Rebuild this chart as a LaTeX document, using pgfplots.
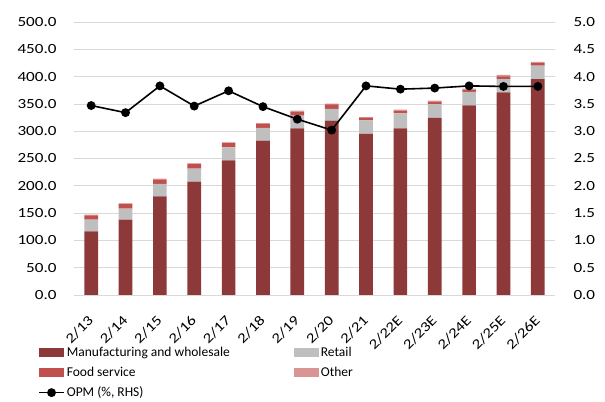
\documentclass[border=0pt]{standalone}
\usepackage{fontspec}
\setmainfont{Carlito}
\newfontfamily\tickfont[FakeStretch=1.22]{Carlito}
\usepackage{pgfplots}
\usepackage{pgfplotstable}
\pgfplotsset{compat=1.18}
\definecolor{mfg}{RGB}{142,57,57}
\definecolor{retail}{RGB}{191,191,191}
\definecolor{food}{RGB}{192,80,77}
\definecolor{other}{RGB}{217,149,148}
\definecolor{gridc}{RGB}{217,217,217}
\pgfplotsset{
  swatch/.style={legend image code/.code={\path[##1,draw=none] (0bp,-4.5bp) rectangle (25bp,4.5bp);}},
  lineswatch/.style={legend image code/.code={\draw[mark repeat=2,mark phase=2,##1] plot coordinates {(0bp,0bp) (12.5bp,0bp) (25bp,0bp)};}},
}
\pgfplotstableread{
x mfg retail food other opm
0 116.6 21.4 7.9 1.2 3.47
1 138.0 20.0 8.7 1.3 3.34
2 180.7 22.6 7.7 2.0 3.83
3 207.6 23.8 8.6 1.2 3.46
4 246.6 23.8 8.0 1.2 3.74
5 282.7 23.2 7.9 1.2 3.45
6 305.3 23.1 7.4 1.8 3.22
7 319.3 21.7 8.2 1.2 3.02
8 294.9 25.0 4.3 1.8 3.83
9 305.3 27.4 4.9 1.8 3.77
10 324.2 25.6 4.3 1.9 3.79
11 347.4 24.4 4.3 1.9 3.83
12 371.2 24.4 4.9 2.5 3.82
13 395.6 24.4 4.9 2.1 3.82
}\data
\begin{document}
\begin{tikzpicture}
\path[use as bounding box] (0,0) rectangle (605bp,402bp);
\begin{axis}[
  at={(74bp,107bp)}, anchor=south west,
  scale only axis, width=481bp, height=273bp,
  ybar stacked, bar width=13.7bp,
  xmin=-0.5, xmax=13.5, ymin=0, ymax=500,
  xtick={0,...,13},
  xticklabels={2/13,2/14,2/15,2/16,2/17,2/18,2/19,2/20,2/21,2/22E,2/23E,2/24E,2/25E,2/26E},
  ytick={0,50,...,500},
  ymajorgrids, grid style={draw=gridc, line width=0.8pt},
  axis line style={draw=none}, major tick length=0pt,
  yticklabel={\pgfmathprintnumber[fixed,fixed zerofill,precision=1,assume math mode=true]{\tick}},
  ticklabel style={font=\tickfont\fontsize{14bp}{16bp}\selectfont},
  yticklabel style={xshift=-14bp},
  xticklabel style={rotate=45, anchor=east, yshift=-16bp, xshift=-13bp},
]
\addplot[fill=mfg, draw=none] table[x=x,y=mfg]{\data};
\addplot[fill=retail, draw=none] table[x=x,y=retail]{\data};
\addplot[fill=food, draw=none] table[x=x,y=food]{\data};
\addplot[fill=other, draw=none] table[x=x,y=other]{\data};
\end{axis}
\begin{axis}[
  at={(74bp,107bp)}, anchor=south west,
  scale only axis, width=481bp, height=273bp,
  xmin=-0.5, xmax=13.5, ymin=0, ymax=5,
  axis x line=none, axis y line*=right, axis line style={draw=none},
  major tick length=0pt,
  ytick={0,0.5,...,5},
  yticklabel={\pgfmathprintnumber[fixed,fixed zerofill,precision=1,assume math mode=true]{\tick}},
  ticklabel style={font=\tickfont\fontsize{14bp}{16bp}\selectfont},
  yticklabel style={xshift=15bp},
  legend columns=2,
  legend cell align=left,
  legend style={at={(-0.081,-0.176)}, anchor=north west, draw=none, fill=none,
    font=\fontsize{13.5bp}{16bp}\selectfont, row sep=5bp,
    /tikz/every odd column/.style={column sep=0bp},
    /tikz/column 2/.style={column sep=62bp}},
]
\addlegendimage{swatch, fill=mfg}
\addlegendentry{Manufacturing and wholesale}
\addlegendimage{swatch, fill=retail}
\addlegendentry{Retail}
\addlegendimage{swatch, fill=food}
\addlegendentry{Food service}
\addlegendimage{swatch, fill=other}
\addlegendentry{Other}
\addplot[black, line width=1.6pt, mark=*, mark size=3.6bp, lineswatch] table[x=x,y=opm]{\data};
\addlegendentry{OPM (\%, RHS)}
\end{axis}
\end{tikzpicture}
\end{document}
